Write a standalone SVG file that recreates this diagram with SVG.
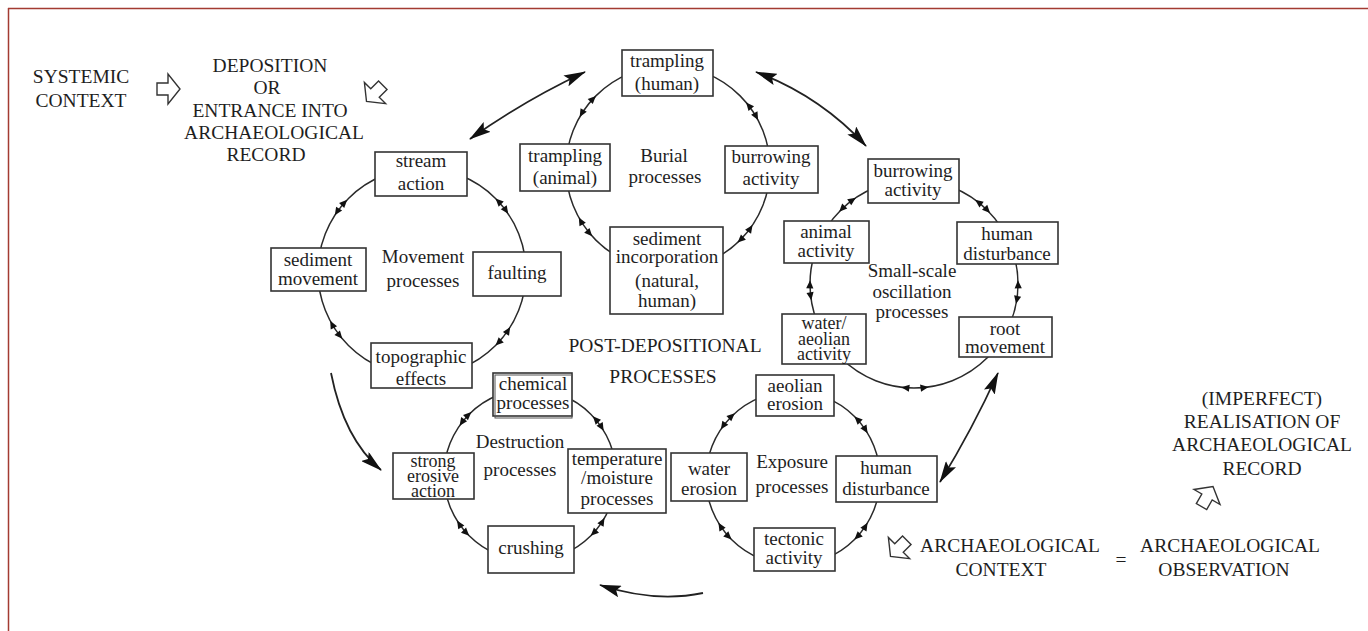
<svg xmlns="http://www.w3.org/2000/svg" xmlns:xlink="http://www.w3.org/1999/xlink" width="1368" height="631" viewBox="0 0 1368 631">
<style>
text{font-family:"Liberation Serif","Times New Roman",serif;font-size:19px;fill:#1e1e1e;text-anchor:middle}
.cap{font-size:19.5px}
.tight{font-size:18px}
.box{fill:#fff;stroke:#333;stroke-width:1.6}
.ring{fill:none;stroke:#2a2a2a;stroke-width:1.5}
.sa{fill:#111}
.big{fill:none;stroke:#222;stroke-width:1.8}
.blk{fill:#fff;stroke:#333;stroke-width:1.4;stroke-linejoin:miter}
</style>
<defs>
<path id="sa" class="sa" d="M0,0 L-8,-3.6 L-8,3.6 Z"/>
<path id="blk" class="blk" d="M-11,-6 L0,-6 L0,-15 L12,0 L0,15 L0,6 L-11,6 Z"/>
<marker id="bh" viewBox="0 0 22 12" refX="21" refY="6" markerWidth="22" markerHeight="12" markerUnits="userSpaceOnUse" orient="auto-start-reverse">
<path d="M0,0 L22,6 L0,12 L4,6 Z" fill="#111"/>
</marker>
</defs>
<rect width="1368" height="631" fill="#fff"/>
<g id="frame">
<line x1="8" y1="8.5" x2="1368" y2="8.5" stroke="#a33b32" stroke-width="1.5"/>
<line x1="8.5" y1="8" x2="8.5" y2="631" stroke="#a33b32" stroke-width="1.5"/>
</g>

<g id="labels">
<text class="cap" x="81" y="83">SYSTEMIC</text>
<text class="cap" x="81" y="107">CONTEXT</text>
<text class="cap" x="270" y="72">DEPOSITION</text>
<text class="cap" x="267" y="94">OR</text>
<text class="cap" x="270" y="117">ENTRANCE INTO</text>
<text class="cap" x="274" y="139">ARCHAEOLOGICAL</text>
<text class="cap" x="266" y="161">RECORD</text>
<text class="cap" x="665" y="352">POST-DEPOSITIONAL</text>
<text class="cap" x="663" y="383">PROCESSES</text>
<text class="cap" x="1262" y="405">(IMPERFECT)</text>
<text class="cap" x="1262" y="428">REALISATION OF</text>
<text class="cap" x="1262" y="451">ARCHAEOLOGICAL</text>
<text class="cap" x="1262" y="475">RECORD</text>
<text class="cap" x="1010" y="552">ARCHAEOLOGICAL</text>
<text class="cap" x="1001" y="576">CONTEXT</text>
<text class="cap" x="1121" y="566">=</text>
<text class="cap" x="1230" y="552">ARCHAEOLOGICAL</text>
<text class="cap" x="1224" y="576">OBSERVATION</text>
</g>

<g id="block-arrows">
<use href="#blk" transform="translate(168,89)"/>
<use href="#blk" transform="translate(375,93) rotate(135)"/>
<use href="#blk" transform="translate(1207,497) rotate(-60)"/>
<use href="#blk" transform="translate(899,548) rotate(135)"/>
</g>

<g id="connectors">
<path class="big" d="M470,139 Q525,100 585,72" marker-start="url(#bh)" marker-end="url(#bh)"/>
<path class="big" d="M756,72 Q820,96 866,146" marker-start="url(#bh)" marker-end="url(#bh)"/>
<path class="big" d="M998,373 Q972,430 940,482" marker-start="url(#bh)" marker-end="url(#bh)"/>
<path class="big" d="M331,373 Q344,439 381,470" marker-end="url(#bh)"/>
<path class="big" d="M703,593 Q655,603 600,585" marker-end="url(#bh)"/>
</g>

<g id="burial" transform="translate(668,168)">
<circle class="ring" r="102"/>
<use href="#sa" transform="rotate(225) translate(102,0) rotate(90)"/>
<use href="#sa" transform="rotate(210) translate(102,0) rotate(-90)"/>
<use href="#sa" transform="rotate(-40) translate(102,0) rotate(-90)"/>
<use href="#sa" transform="rotate(-28) translate(102,0) rotate(90)"/>
<use href="#sa" transform="rotate(34) translate(102,0) rotate(-90)"/>
<use href="#sa" transform="rotate(47) translate(102,0) rotate(90)"/>
<use href="#sa" transform="rotate(151) translate(102,0) rotate(90)"/>
<use href="#sa" transform="rotate(138) translate(102,0) rotate(-90)"/>
<text x="-4" y="-6">Burial</text>
<text x="-3" y="15">processes</text>
</g>
<g id="b-trampling-human"><rect class="box" x="622" y="50" width="91" height="46"/><text x="667" y="67">trampling</text><text x="667" y="90">(human)</text></g>
<g id="b-trampling-animal"><rect class="box" x="520" y="144" width="90" height="47"/><text x="565" y="162">trampling</text><text x="565" y="184">(animal)</text></g>
<g id="b-burrowing1"><rect class="box" x="725" y="146" width="93" height="47"/><text x="771" y="163">burrowing</text><text x="771" y="185">activity</text></g>
<g id="b-sediment-inc"><rect class="box" x="610" y="227" width="113" height="87"/><text x="667" y="245">sediment</text><text x="667" y="263">incorporation</text><text x="667" y="287">(natural,</text><text x="667" y="307">human)</text></g>

<g id="movement" transform="translate(422,272)">
<circle class="ring" r="104"/>
<use href="#sa" transform="rotate(224) translate(104,0) rotate(90)"/>
<use href="#sa" transform="rotate(213) translate(104,0) rotate(-90)"/>
<use href="#sa" transform="rotate(-45) translate(104,0) rotate(-90)"/>
<use href="#sa" transform="rotate(-34) translate(104,0) rotate(90)"/>
<use href="#sa" transform="rotate(32) translate(104,0) rotate(-90)"/>
<use href="#sa" transform="rotate(45) translate(104,0) rotate(90)"/>
<use href="#sa" transform="rotate(152) translate(104,0) rotate(90)"/>
<use href="#sa" transform="rotate(140) translate(104,0) rotate(-90)"/>
<text x="1" y="-9">Movement</text>
<text x="1" y="15">processes</text>
</g>
<g id="m-stream"><rect class="box" x="375" y="152" width="92" height="44"/><text x="421" y="167">stream</text><text x="421" y="190">action</text></g>
<g id="m-sediment"><rect class="box" x="271" y="248" width="95" height="43"/><text x="318" y="266">sediment</text><text x="318" y="285">movement</text></g>
<g id="m-faulting"><rect class="box" x="473" y="252" width="88" height="44"/><text x="517" y="279">faulting</text></g>
<g id="m-topographic"><rect class="box" x="371" y="343" width="101" height="45"/><text x="421" y="363">topographic</text><text x="421" y="385">effects</text></g>

<g id="smallscale" transform="translate(914,284)">
<circle class="ring" r="104"/>
<use href="#sa" transform="rotate(236) translate(104,0) rotate(90)"/>
<use href="#sa" transform="rotate(224) translate(104,0) rotate(-90)"/>
<use href="#sa" transform="rotate(-54) translate(104,0) rotate(-90)"/>
<use href="#sa" transform="rotate(-43) translate(104,0) rotate(90)"/>
<use href="#sa" transform="rotate(-2) translate(104,0) rotate(-90)"/>
<use href="#sa" transform="rotate(11) translate(104,0) rotate(90)"/>
<use href="#sa" transform="rotate(82) translate(104,0) rotate(-90)"/>
<use href="#sa" transform="rotate(97) translate(104,0) rotate(90)"/>
<use href="#sa" transform="rotate(182) translate(104,0) rotate(90)"/>
<use href="#sa" transform="rotate(171) translate(104,0) rotate(-90)"/>
<text x="-2" y="-7">Small-scale</text>
<text x="-2" y="14">oscillation</text>
<text x="-2" y="34">processes</text>
</g>
<g id="s-burrowing"><rect class="box" x="868" y="159" width="91" height="44"/><text x="913" y="177">burrowing</text><text x="913" y="196">activity</text></g>
<g id="s-animal"><rect class="box" x="784" y="221" width="85" height="42"/><text x="826" y="238">animal</text><text x="826" y="257">activity</text></g>
<g id="s-human"><rect class="box" x="957" y="222" width="101" height="42"/><text x="1007" y="240">human</text><text x="1007" y="260">disturbance</text></g>
<g id="s-water"><rect class="box" x="782" y="314" width="84" height="50"/><text class="tight" x="824" y="329">water/</text><text class="tight" x="824" y="345">aeolian</text><text class="tight" x="824" y="360">activity</text></g>
<g id="s-root"><rect class="box" x="959" y="317" width="93" height="40"/><text x="1005" y="335">root</text><text x="1005" y="353">movement</text></g>

<g id="destruction" transform="translate(530,475)">
<circle class="ring" r="86"/>
<use href="#sa" transform="rotate(227) translate(86,0) rotate(90)"/>
<use href="#sa" transform="rotate(215) translate(86,0) rotate(-90)"/>
<use href="#sa" transform="rotate(-43) translate(86,0) rotate(-90)"/>
<use href="#sa" transform="rotate(-31) translate(86,0) rotate(90)"/>
<use href="#sa" transform="rotate(30) translate(86,0) rotate(-90)"/>
<use href="#sa" transform="rotate(45) translate(86,0) rotate(90)"/>
<use href="#sa" transform="rotate(148) translate(86,0) rotate(90)"/>
<use href="#sa" transform="rotate(135) translate(86,0) rotate(-90)"/>
<text x="-10" y="-27">Destruction</text>
<text x="-10" y="1">processes</text>
</g>
<g id="d-chemical"><rect class="box" x="493" y="373" width="79" height="43"/><rect x="495" y="375" width="77" height="43" fill="none" stroke="#555" stroke-width="1"/><text x="533" y="390">chemical</text><text x="533" y="409">processes</text></g>
<g id="d-strong"><rect class="box" x="393" y="453" width="81" height="46"/><text class="tight" x="433" y="467">strong</text><text class="tight" x="433" y="482">erosive</text><text class="tight" x="433" y="497">action</text></g>
<g id="d-temperature"><rect class="box" x="568" y="449" width="98" height="64"/><text x="617" y="465">temperature</text><text x="617" y="484">/moisture</text><text x="617" y="505">processes</text></g>
<g id="d-crushing"><rect class="box" x="488" y="526" width="86" height="47"/><text x="531" y="554">crushing</text></g>

<g id="exposure" transform="translate(793,478)">
<circle class="ring" r="87"/>
<use href="#sa" transform="rotate(228) translate(87,0) rotate(90)"/>
<use href="#sa" transform="rotate(214) translate(87,0) rotate(-90)"/>
<use href="#sa" transform="rotate(-45) translate(87,0) rotate(-90)"/>
<use href="#sa" transform="rotate(-31) translate(87,0) rotate(90)"/>
<use href="#sa" transform="rotate(31) translate(87,0) rotate(-90)"/>
<use href="#sa" transform="rotate(45) translate(87,0) rotate(90)"/>
<use href="#sa" transform="rotate(149) translate(87,0) rotate(90)"/>
<use href="#sa" transform="rotate(135) translate(87,0) rotate(-90)"/>
<text x="-1" y="-10">Exposure</text>
<text x="-1" y="15">processes</text>
</g>
<g id="e-aeolian"><rect class="box" x="756" y="375" width="78" height="41"/><text x="795" y="392">aeolian</text><text x="795" y="410">erosion</text></g>
<g id="e-water"><rect class="box" x="671" y="453" width="76" height="48"/><text x="709" y="475">water</text><text x="709" y="495">erosion</text></g>
<g id="e-human"><rect class="box" x="836" y="456" width="101" height="46"/><text x="886" y="474">human</text><text x="886" y="495">disturbance</text></g>
<g id="e-tectonic"><rect class="box" x="754" y="528" width="81" height="43"/><text x="794" y="545">tectonic</text><text x="794" y="564">activity</text></g>
</svg>
